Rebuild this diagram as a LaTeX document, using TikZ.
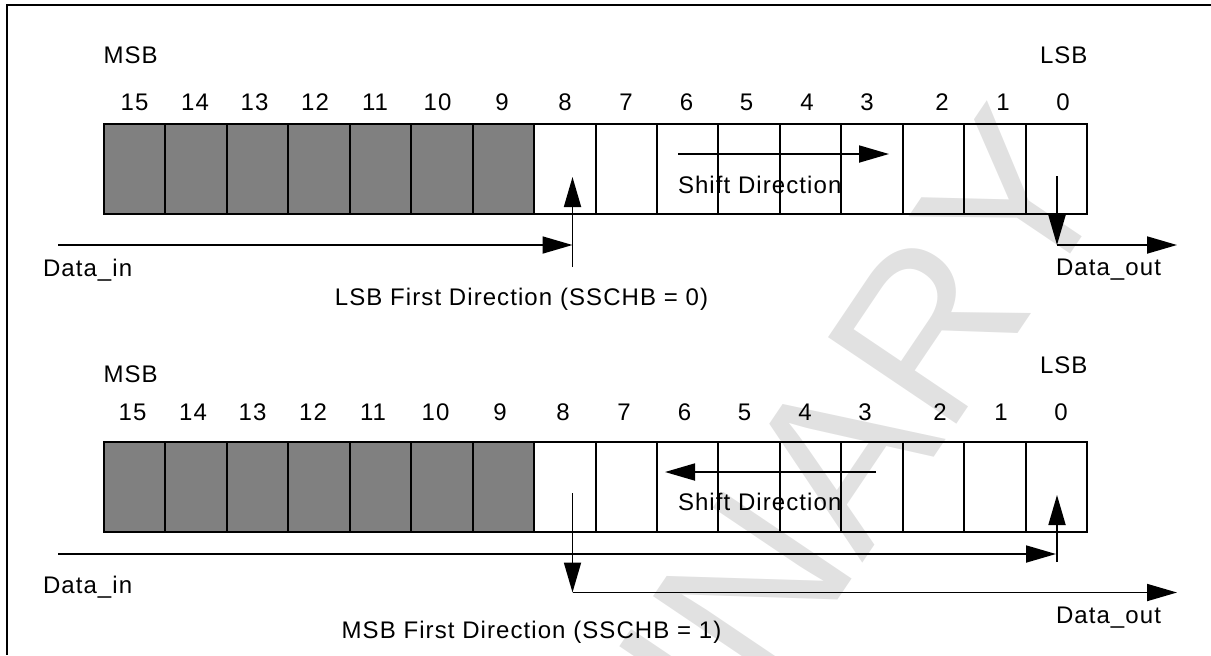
\documentclass[tikz,border=0pt]{standalone}
\usepackage{fontspec}
\setmainfont{Liberation Sans}[LetterSpace=4.5]
\newfontfamily\wmfont{Liberation Sans}
\usetikzlibrary{arrows.meta}
\definecolor{cellgray}{RGB}{128,128,128}
\definecolor{wmgray}{RGB}{225,225,225}
\begin{document}
\begin{tikzpicture}[x=0.5pt,y=-0.5pt,
  lbl/.style={inner sep=0pt, outer sep=0pt, font=\fontsize{12}{14}\selectfont},
  cell/.style={draw, line width=1pt, minimum width=30.72pt, minimum height=45pt, inner sep=0pt, outer sep=0pt},
  shaded/.style={cell, fill=cellgray},
  conn/.style={line width=0.9pt, -{Triangle[length=15pt,width=8.5pt]}},
  frameline/.style={line width=1pt},
  wm/.style={font=\wmfont\fontsize{112.5}{112.5}\selectfont, text=wmgray, inner sep=0pt, anchor=base west, rotate=56}]

\useasboundingbox (0,0) rectangle (1211,655);

% watermark
\begin{scope}
  \clip (0,0) rectangle (1211,655);
  \node[wm] (wmark) at (268,1445) {PRELIMINARY};
\end{scope}

% frame (top and left edges)
\coordinate (fTL) at (7,5);
\coordinate (fTR) at (1211,5);
\coordinate (fBL) at (7,655);
\draw[frameline] (fTR) -- (fTL) -- (fBL);

% register cells
\foreach \b in {0,...,8}{
  \node[cell] (t\b) at ({104+(15.5-\b)*61.44},169) {};
  \node[cell] (b\b) at ({104+(15.5-\b)*61.44},486.5) {};
}
\foreach \b in {9,...,15}{
  \node[shaded] (t\b) at ({104+(15.5-\b)*61.44},169) {};
  \node[shaded] (b\b) at ({104+(15.5-\b)*61.44},486.5) {};
}

% bit numbers
\foreach \b/\x in {15/134.5,14/195,13/254.5,12/315,11/375,10/437.5,9/502,8/565,7/626,6/686.5,5/746.5,4/807,3/867,2/942,1/1003,0/1063}{
  \node[lbl, anchor=base] (nt\b) at (\x,110) {\b};
  \node[lbl, anchor=base] (nb\b) at (\x-2,420) {\b};
}

% labels, top
\node[lbl, anchor=base west] (msbT) at (103.5,63) {MSB};
\node[lbl, anchor=base west] (lsbT) at (1040,63) {LSB};
\node[lbl, anchor=base west] (dinT) at (43,276) {Data\_in};
\node[lbl, anchor=base west] (doutT) at (1056,275) {Data\_out};
\node[lbl, anchor=base west] (shT) at (678,193) {Shift Direction};
\node[lbl, anchor=base] (capT) at (521.5,305) {LSB First Direction (SSCHB = 0)};

% labels, bottom
\node[lbl, anchor=base west] (msbB) at (103.5,382) {MSB};
\node[lbl, anchor=base west] (lsbB) at (1040,373) {LSB};
\node[lbl, anchor=base west] (dinB) at (43,593) {Data\_in};
\node[lbl, anchor=base west] (doutB) at (1056,623) {Data\_out};
\node[lbl, anchor=base west] (shB) at (678,510) {Shift Direction};
\node[lbl, anchor=base] (capB) at (531.5,638) {MSB First Direction (SSCHB = 1)};

% connector end points, top
\coordinate (dinTs) at (58,245);
\coordinate (dinTe) at (572.5,245);
\coordinate (upTs) at (572.5,267);
\coordinate (upTe) at (572.5,177);
\coordinate (shTs) at (678,154);
\coordinate (shTe) at (889,154);
\coordinate (doTs) at (1057,176);
\coordinate (doTc) at (1057,245);
\coordinate (doTe) at (1177,245);

% connector end points, bottom
\coordinate (dinBs) at (58,554);
\coordinate (dinBe) at (1056,554);
\coordinate (upBs) at (1057,562);
\coordinate (upBe) at (1057,495);
\coordinate (dnBs) at (572.5,493);
\coordinate (dnBc) at (572.5,592.5);
\coordinate (dnBe) at (1177,592.5);
\coordinate (shBs) at (876,472);
\coordinate (shBe) at (665,472);

% connectors, top
\draw[conn] (dinTs) -- (dinTe);
\draw[conn] (upTs) -- (upTe);
\draw[conn] (shTs) -- (shTe);
\draw[conn] (doTs) -- (doTc);
\draw[conn] (doTc) -- (doTe);

% connectors, bottom
\draw[conn] (dinBs) -- (dinBe);
\draw[conn] (upBs) -- (upBe);
\draw[conn] (dnBs) -- (dnBc);
\draw[conn] (dnBc) -- (dnBe);
\draw[conn] (shBs) -- (shBe);

\end{tikzpicture}
\end{document}
